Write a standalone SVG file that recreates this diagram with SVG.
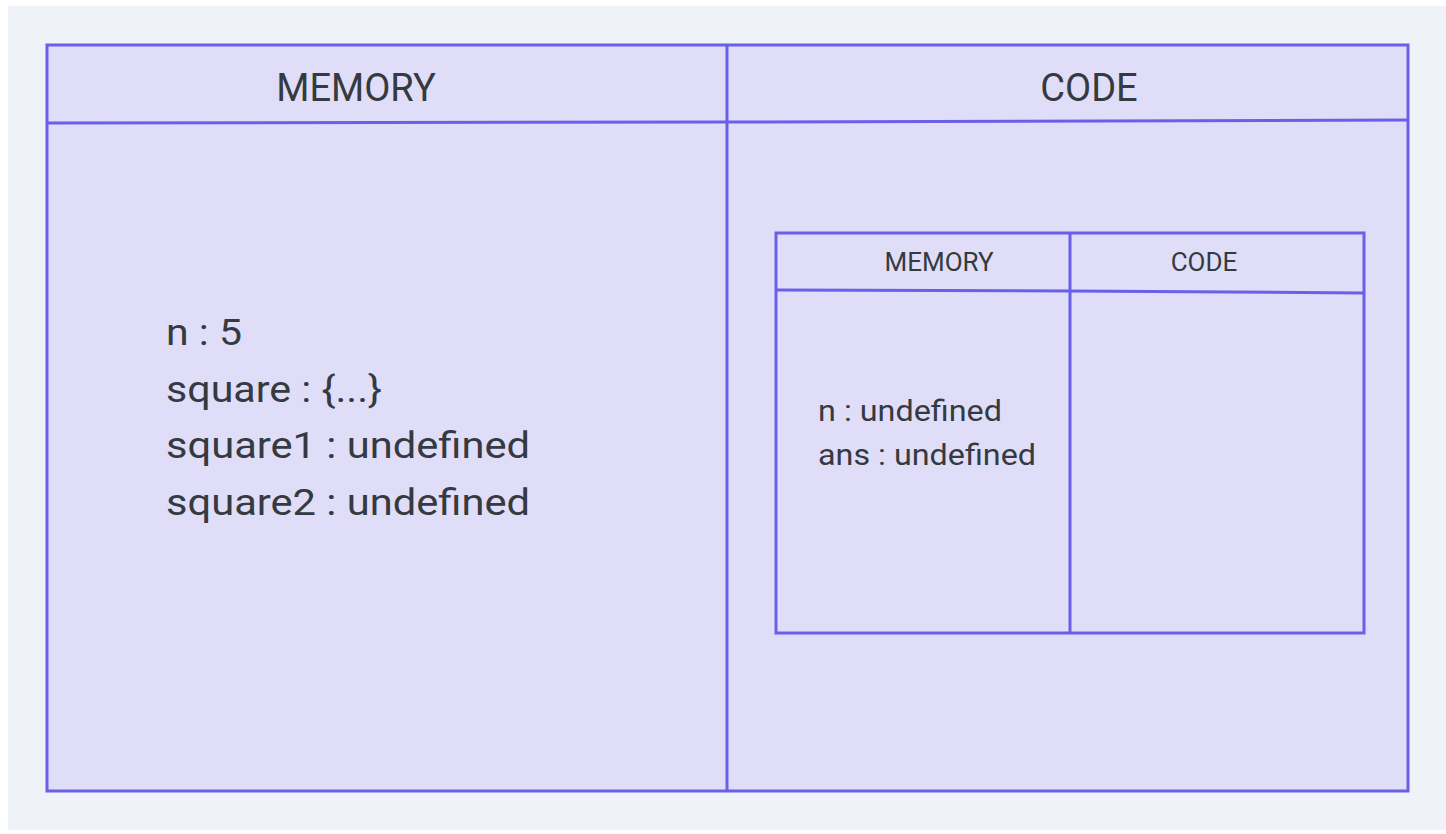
<svg xmlns="http://www.w3.org/2000/svg" width="1446" height="834" viewBox="0 0 1446 834">
<style>
.box{fill:#e0ddf9;stroke:#6a5fe8;stroke-width:3}
.ln{fill:none;stroke:#6a5fe8;stroke-width:3}
.t{font-family:Roboto,"Noto Sans",sans-serif;fill:#343a40}
.h1{font-size:38px;text-anchor:middle}
.h2{font-size:26px;text-anchor:middle}
.b1{font-size:37px}
.b2{font-size:29px}
</style>
<rect x="0" y="0" width="1446" height="834" fill="#ffffff"/>
<rect x="8" y="6" width="1438" height="824" fill="#eff2f6"/>
<g id="outer">
<rect class="box" x="47" y="45" width="1361" height="746"/>
<line class="ln" x1="727" y1="45" x2="727" y2="791"/>
<line class="ln" x1="47" y1="123" x2="727" y2="122"/>
<line class="ln" x1="727" y1="122" x2="1408" y2="120"/>
</g>
<g id="memory">
<text class="t h1" x="356" y="101">MEMORY</text>
<text class="t b1" x="166" y="345" textLength="76" lengthAdjust="spacingAndGlyphs">n : 5</text>
<text class="t b1" x="166" y="402" textLength="216" lengthAdjust="spacingAndGlyphs">square : {...}</text>
<text class="t b1" x="166" y="458" textLength="364" lengthAdjust="spacingAndGlyphs">square1 : undefined</text>
<text class="t b1" x="166" y="515" textLength="364" lengthAdjust="spacingAndGlyphs">square2 : undefined</text>
</g>
<g id="code">
<text class="t h1" x="1089" y="101">CODE</text>
</g>
<g id="inner">
<rect class="box" x="776" y="233" width="588" height="400"/>
<line class="ln" x1="1070" y1="233" x2="1070" y2="633"/>
<line class="ln" x1="776" y1="290" x2="1070" y2="291"/>
<line class="ln" x1="1070" y1="291" x2="1364" y2="293"/>
<text class="t h2" x="939" y="271">MEMORY</text>
<text class="t h2" x="1204" y="271">CODE</text>
<text class="t b2" x="818" y="421" textLength="184" lengthAdjust="spacingAndGlyphs">n : undefined</text>
<text class="t b2" x="818" y="465" textLength="218" lengthAdjust="spacingAndGlyphs">ans : undefined</text>
</g>
<g id="connectors"></g>
</svg>
